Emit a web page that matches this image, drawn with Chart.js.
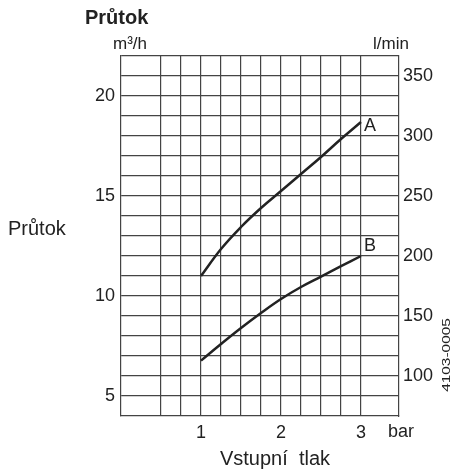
<!DOCTYPE html>
<html>
<head>
<meta charset="utf-8">
<script src="https://cdn.jsdelivr.net/npm/chart.js@4/dist/chart.umd.min.js"></script>
<style>
html,body{margin:0;padding:0;background:#fff;}
#wrap{width:454px;height:470px;}
</style>
</head>
<body>
<div id="wrap"><canvas id="c" width="454" height="470"></canvas></div>
<script>
const pressure = [1, 1.25, 1.5, 1.75, 2, 2.25, 2.5, 2.75, 3];
const flowA = [11.0, 12.35, 13.45, 14.4, 15.25, 16.1, 16.95, 17.85, 18.7];
const flowB = [6.77, 7.6, 8.4, 9.15, 9.85, 10.45, 10.97, 11.49, 12.0];
const seriesNames = ['A', 'B'];
const xGridTicks = [0.5, 0.75, 1, 1.25, 1.5, 1.75, 2, 2.25, 2.5, 2.75, 3];
const xLabelTicks = [1, 2, 3];
const yGridTicks = [5,6,7,8,9,10,11,12,13,14,15,16,17,18,19,20,21,22];
const yLabelTicks = [5, 10, 15, 20];
const y2Ticks = [100, 150, 200, 250, 300, 350];
const M3H_TO_LMIN = 1000 / 60;

const FONT = "'Liberation Sans', Arial, sans-serif";
const TXT = '#222';
const GRID = '#444';

const mk = (arr) => pressure.map((p, i) => ({x: p, y: arr[i]}));

const textPlugin = {
  id: 'texts',
  afterDraw(chart) {
    const ctx = chart.ctx;
    ctx.save();
    ctx.fillStyle = TXT;
    ctx.textBaseline = 'middle';
    ctx.font = "bold 20px " + FONT;
    ctx.textAlign = 'left';
    ctx.fillText('Průtok', 85, 18);
    ctx.font = "17px " + FONT;
    ctx.textAlign = 'center';
    ctx.fillText('m³/h', 130, 44);
    ctx.textAlign = 'left';
    ctx.fillText('l/min', 373, 44);
    ctx.font = "20px " + FONT;
    ctx.fillText('Průtok', 8, 229);
    ctx.font = "18px " + FONT;
    ctx.fillText('bar', 388, 432);
    ctx.font = "20px " + FONT;
    ctx.textAlign = 'center';
    ctx.fillText('Vstupní  tlak', 275, 459);
    // series labels near last points
    const xs = chart.scales.x, ys = chart.scales.y;
    const offs = [[3, 4], [3, -10]];
    ctx.font = "18px " + FONT;
    ctx.textAlign = 'left';
    chart.data.datasets.forEach((ds, i) => {
      const last = ds.data[ds.data.length - 1];
      ctx.fillText(seriesNames[i], xs.getPixelForValue(last.x) + offs[i][0], ys.getPixelForValue(last.y) + offs[i][1]);
    });
    // rotated code
    ctx.translate(447, 355);
    ctx.rotate(-Math.PI / 2);
    ctx.scale(1.4, 1);
    ctx.font = "11px " + FONT;
    ctx.textAlign = 'center';
    ctx.fillText('4103-0005', 0, 0);
    ctx.restore();
  }
};

new Chart(document.getElementById('c'), {
  type: 'line',
  data: {
    datasets: [
      {label: 'A', data: mk(flowA), borderColor: TXT, borderWidth: 2.5, pointRadius: 0, tension: 0.4, fill: false},
      {label: 'B', data: mk(flowB), borderColor: TXT, borderWidth: 2.5, pointRadius: 0, tension: 0.4, fill: false}
    ]
  },
  options: {
    responsive: false,
    devicePixelRatio: 1,
    animation: false,
    layout: {padding: {top: 56, left: 0, right: 0, bottom: 0}},
    plugins: {legend: {display: false}, tooltip: {enabled: false}},
    scales: {
      x: {
        type: 'linear', position: 'bottom', min: 0, max: 3.475,
        afterBuildTicks: (a) => { a.ticks = xGridTicks.map(v => ({value: v})); },
        afterFit: (a) => { a.height = 54; },
        ticks: {autoSkip: false, maxRotation: 0, padding: 6, color: TXT, font: {family: FONT, size: 18},
          callback: (v) => xLabelTicks.includes(v) ? String(v) : ''},
        grid: {color: GRID, lineWidth: 1.2, drawTicks: false},
        border: {display: true, color: GRID, width: 1.2}
      },
      y: {
        type: 'linear', position: 'left', min: 4, max: 22,
        afterBuildTicks: (a) => { a.ticks = yGridTicks.map(v => ({value: v})); },
        afterFit: (a) => { a.width = 121; },
        ticks: {autoSkip: false, padding: 6, color: TXT, font: {family: FONT, size: 18},
          callback: (v) => yLabelTicks.includes(v) ? String(v) : ''},
        grid: {color: GRID, lineWidth: 1.2, drawTicks: false},
        border: {display: true, color: GRID, width: 1.2}
      },
      y2: {
        type: 'linear', position: 'right', min: 4 * M3H_TO_LMIN, max: 22 * M3H_TO_LMIN,
        afterBuildTicks: (a) => { a.ticks = y2Ticks.map(v => ({value: v})); },
        afterFit: (a) => { a.width = 55; },
        ticks: {autoSkip: false, padding: 4, color: TXT, font: {family: FONT, size: 18},
          callback: (v) => String(v)},
        grid: {display: false, drawTicks: false},
        border: {display: true, color: GRID, width: 1.2}
      }
    }
  },
  plugins: [textPlugin]
});
</script>
</body>
</html>
